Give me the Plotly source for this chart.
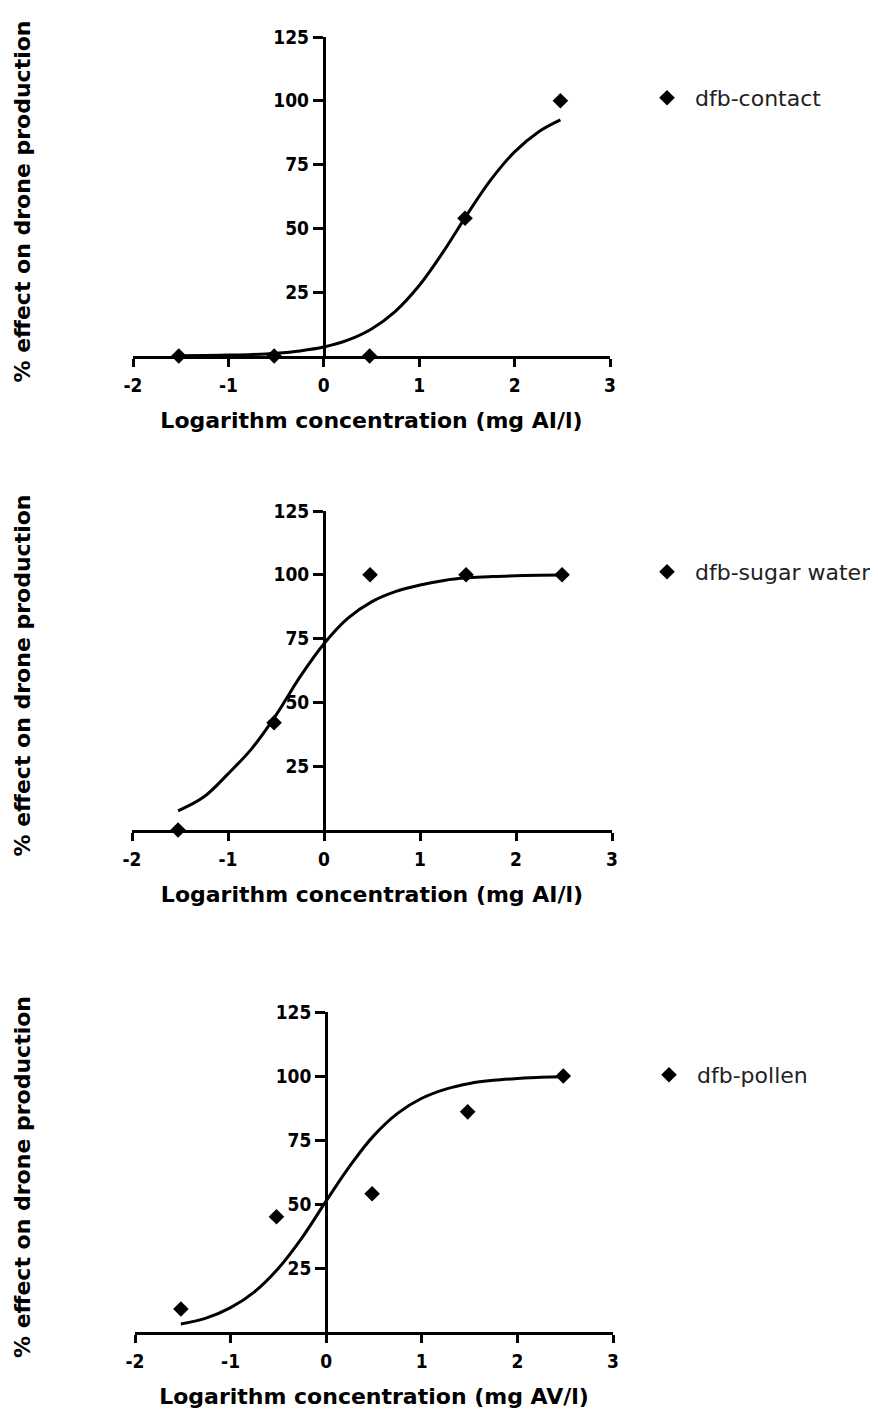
import plotly.graph_objects as go

# ---- data (log10 concentration mg AI/l, % effect) ----
log_conc = [-1.52, -0.52, 0.48, 1.48, 2.48]

contact_effect = [0, 0, 0, 54, 100]
sugar_effect = [0, 42, 100, 100, 100]
pollen_effect = [9, 45, 54, 86, 100]

curve_x = [-1.52, -1.25, -1.0, -0.75, -0.5, -0.25, 0.0, 0.25, 0.5, 0.75,
           1.0, 1.25, 1.5, 1.75, 2.0, 2.25, 2.48]
contact_curve = [0.1, 0.2, 0.35, 0.6, 1.1, 2.0, 3.5, 6.2, 10.6, 17.5,
                 27.6, 40.7, 55.3, 69.0, 80.0, 87.8, 92.5]
sugar_curve = [7.5, 13.0, 22.0, 32.0, 45.0, 60.0, 73.0, 83.0, 89.5, 93.5,
               96.0, 97.8, 98.8, 99.3, 99.6, 99.8, 99.9]
pollen_curve = [3.1, 5.5, 9.5, 15.7, 24.9, 37.0, 51.2, 65.0, 76.8, 85.5,
                91.3, 94.9, 97.1, 98.3, 99.0, 99.5, 99.7]

series_names = ["dfb-contact", "dfb-sugar water", "dfb-pollen"]
x_ticks = [-2, -1, 0, 1, 2, 3]
x_tick_labels = ["-2", "-1", "0", "1", "2", "3"]
y_ticks = [25, 50, 75, 100, 125]
x_title = ["Logarithm concentration (mg AI/l)",
           "Logarithm concentration (mg AI/l)",
           "Logarithm concentration (mg AV/l)"]
y_title = "% effect on drone production"

W, H = 878, 1409
OFF = 8  # page body margin in the browser
# plot-area pixel boxes in the screenshot (left, right, top, bottom)
boxes = [(133, 610, 37, 356), (132, 612, 511, 830), (135, 613, 1012, 1332)]
legend_px = [(667, 98), (667, 572), (669, 1075)]


def px_x(p):
    return (p - OFF) / W


def px_y(p):
    return 1 - (p - OFF) / H


effects = [contact_effect, sugar_effect, pollen_effect]
curves = [contact_curve, sugar_curve, pollen_curve]

fig = go.Figure()
bold = dict(family="DejaVu Sans", size=22, color="black", weight="bold")
tickfont = dict(family="DejaVu Sans Condensed", size=19, color="black", weight="bold")

for i in range(3):
    xa = "x" if i == 0 else f"x{i+1}"
    ya = "y" if i == 0 else f"y{i+1}"
    lg = "legend" if i == 0 else f"legend{i+1}"
    fig.add_trace(go.Scatter(x=curve_x, y=curves[i], mode="lines",
                             line=dict(color="black", width=3, shape="spline"),
                             xaxis=xa, yaxis=ya, showlegend=False, hoverinfo="skip"))
    fig.add_trace(go.Scatter(x=log_conc, y=effects[i], mode="markers", name=series_names[i],
                             marker=dict(symbol="diamond", size=12, color="black"),
                             xaxis=xa, yaxis=ya, legend=lg, showlegend=True, cliponaxis=False))

    l, r, t, b = boxes[i]
    xd = [px_x(l), px_x(r)]
    yd = [px_y(b), px_y(t)]
    xkey = "xaxis" if i == 0 else f"xaxis{i+1}"
    ykey = "yaxis" if i == 0 else f"yaxis{i+1}"
    ypos = xd[0] + (0 - (-2)) / 5 * (xd[1] - xd[0])
    fig.update_layout({
        xkey: dict(domain=xd, range=[-2, 3], anchor=ya, showline=True, linewidth=3,
                   linecolor="black", ticks="outside", ticklen=8, tickwidth=3,
                   tickcolor="black", tickvals=x_ticks, ticktext=x_tick_labels,
                   tickfont=tickfont, automargin=False,
                   showgrid=False, zeroline=False, ticklabelstandoff=2,
                   title=dict(text=x_title[i], font=bold, standoff=18)),
        ykey: dict(domain=yd, range=[0, 125], anchor="free", position=ypos,
                   showline=True, linewidth=3, linecolor="black", ticks="outside",
                   ticklen=10, tickwidth=3, tickcolor="black", tickvals=y_ticks,
                   tickfont=tickfont, showgrid=False, zeroline=False,
                   automargin=False, ticklabelstandoff=0),
        lg: dict(x=px_x(legend_px[i][0] - 28), y=px_y(legend_px[i][1]),
                 xanchor="left", yanchor="middle", itemwidth=46,
                 bgcolor="rgba(0,0,0,0)",
                 font=dict(family="DejaVu Sans", size=22, color="#222222")),
    })
    fig.add_annotation(text=y_title, textangle=-90, xref="paper", yref="paper",
                       x=px_x(22), y=px_y((t + b) / 2 + 5), showarrow=False,
                       xanchor="center", yanchor="middle", font=bold)

fig.update_layout(width=W, height=H, margin=dict(l=0, r=0, t=0, b=0),
                  paper_bgcolor="white", plot_bgcolor="white")
fig.write_html("out.html")
